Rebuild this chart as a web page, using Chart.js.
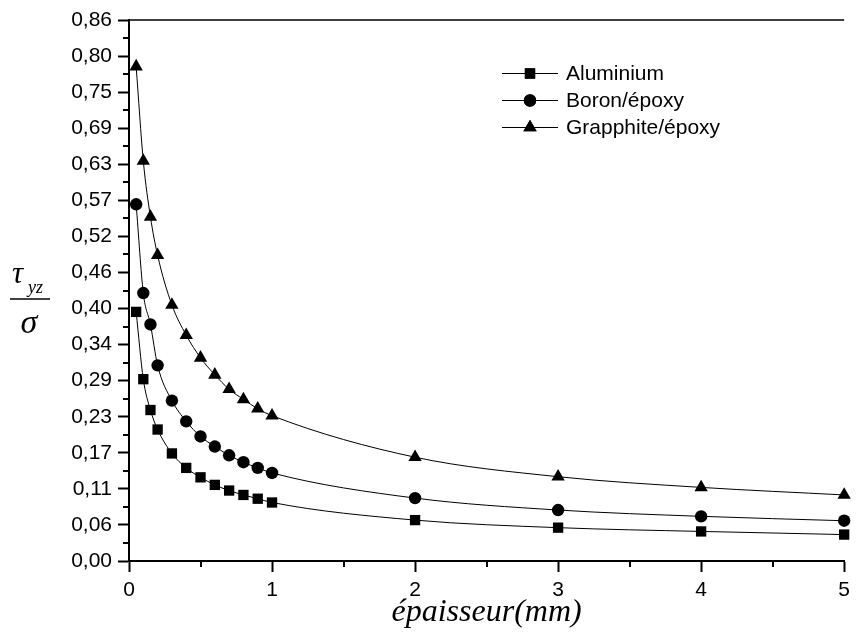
<!DOCTYPE html>
<html>
<head>
<meta charset="utf-8">
<script src="https://cdn.jsdelivr.net/npm/chart.js@4/dist/chart.umd.min.js"></script>
<style>
  html, body { margin: 0; padding: 0; background: #fff; }
  canvas { display: block; }
</style>
</head>
<body>
<canvas id="c" width="856" height="632"></canvas>
<script>
// ---- data ----
const xValues = [0.05, 0.1, 0.15, 0.2, 0.3, 0.4, 0.5, 0.6, 0.7, 0.8, 0.9, 1, 2, 3, 4, 5];
const aluminium = [0.396, 0.289, 0.240, 0.209, 0.171, 0.148, 0.133, 0.121, 0.112, 0.105, 0.099, 0.093, 0.065, 0.053, 0.047, 0.042];
const boronEpoxy = [0.567, 0.426, 0.376, 0.311, 0.255, 0.222, 0.198, 0.182, 0.168, 0.157, 0.148, 0.140, 0.100, 0.081, 0.071, 0.064];
const graphiteEpoxy = [0.786, 0.636, 0.547, 0.486, 0.407, 0.359, 0.323, 0.296, 0.273, 0.257, 0.242, 0.231, 0.165, 0.134, 0.117, 0.105];
const seriesNames = ['Aluminium', 'Boron/époxy', 'Grapphite/époxy'];
const yTickLabels = ['0,00','0,06','0,11','0,17','0,23','0,29','0,34','0,40','0,46','0,52','0,57','0,63','0,69','0,75','0,80','0,86'];
const yMax = 0.86;
const xTickLabels = ['0','1','2','3','4','5'];
const xMax = 5;
const xTitle = 'épaisseur(mm)';

// ---- helpers ----
const ySteps = yTickLabels.length - 1;
const yTickValues = yTickLabels.map((_, i) => i * yMax / ySteps);
const toPts = arr => arr.map((v, i) => ({ x: xValues[i], y: v }));

const sans = '"Liberation Sans", Arial, sans-serif';
const serif = '"Liberation Serif", "Times New Roman", serif';

const frame = {
  id: 'frame',
  afterDraw(chart) {
    const ctx = chart.ctx;
    const a = chart.chartArea;
    const xs = chart.scales.x, ys = chart.scales.y;
    ctx.save();
    ctx.strokeStyle = '#000';
    // top border
    ctx.lineWidth = 1.5;
    ctx.beginPath();
    ctx.moveTo(a.left, a.top);
    ctx.lineTo(a.right, a.top);
    ctx.stroke();
    // minor ticks
    ctx.lineWidth = 2;
    ctx.beginPath();
    for (let i = 0; i < xMax; i++) {
      const px = Math.round(xs.getPixelForValue(i + 0.5));
      ctx.moveTo(px, a.bottom);
      ctx.lineTo(px, a.bottom + 6);
    }
    for (let i = 0; i < ySteps; i++) {
      const py = Math.round(ys.getPixelForValue((i + 0.5) * yMax / ySteps));
      ctx.moveTo(a.left - 6, py);
      ctx.lineTo(a.left, py);
    }
    ctx.stroke();

    // y axis title: tau_yz / sigma
    ctx.fillStyle = '#000';
    ctx.textAlign = 'left';
    ctx.textBaseline = 'alphabetic';
    ctx.font = 'italic 31px ' + serif;
    ctx.fillText('τ', 12, 283);
    ctx.font = 'italic 18px ' + serif;
    ctx.fillText('yz', 28, 293);
    ctx.lineWidth = 1.5;
    ctx.beginPath();
    ctx.moveTo(10, 299);
    ctx.lineTo(50, 299);
    ctx.stroke();
    ctx.font = 'italic 34px ' + serif;
    ctx.textAlign = 'center';
    ctx.fillText('σ', 29, 333);

    // legend
    const rows = [73.5, 100.5, 127.5];
    chart.data.datasets.forEach((ds, i) => {
      const y = rows[i];
      ctx.lineWidth = 1;
      ctx.strokeStyle = '#000';
      ctx.beginPath();
      ctx.moveTo(502, y);
      ctx.lineTo(558, y);
      ctx.stroke();
      ctx.fillStyle = '#000';
      Chart.helpers.drawPoint(ctx, {
        pointStyle: ds.pointStyle, radius: ds.pointRadius, rotation: 0, borderWidth: 0
      }, 530, y);
      ctx.fill();
      ctx.font = '21px ' + sans;
      ctx.textAlign = 'left';
      ctx.textBaseline = 'middle';
      ctx.fillText(ds.label, 566, y + 1);
    });
    ctx.restore();
  }
};

const mkDs = (label, data, style, r) => ({
  label, data: toPts(data),
  borderColor: '#000', backgroundColor: '#000', borderWidth: 1,
  pointStyle: style, pointRadius: r, pointHoverRadius: r,
  pointBackgroundColor: '#000', pointBorderColor: '#000', pointBorderWidth: 0,
  cubicInterpolationMode: 'monotone', fill: false, clip: false
});

new Chart(document.getElementById('c'), {
  type: 'line',
  data: {
    datasets: [
      mkDs(seriesNames[0], aluminium, 'rect', 7.3),
      mkDs(seriesNames[1], boronEpoxy, 'circle', 6.2),
      mkDs(seriesNames[2], graphiteEpoxy, 'triangle', 7.7)
    ]
  },
  options: {
    responsive: false,
    animation: false,
    devicePixelRatio: 1,
    layout: { padding: { top: 20, right: 7, left: 0, bottom: 0 } },
    plugins: { legend: { display: false }, tooltip: { enabled: false } },
    scales: {
      x: {
        type: 'linear', min: 0, max: xMax,
        afterFit: s => { s.height = 71; },
        afterBuildTicks: s => { s.ticks = xTickLabels.map((_, i) => ({ value: i })); },
        ticks: {
          color: '#000', font: { family: sans, size: 21 }, padding: 6,
          maxRotation: 0, autoSkip: false,
          callback: (v, i) => xTickLabels[i]
        },
        grid: { display: true, drawOnChartArea: false, drawTicks: true, tickLength: 11, tickWidth: 2, tickColor: '#000' },
        border: { display: true, color: '#000', width: 2 },
        title: { display: true, text: xTitle, color: '#000', font: { family: serif, size: 32, style: 'italic' }, padding: 0 }
      },
      y: {
        type: 'linear', min: 0, max: yMax,
        afterFit: s => { s.width = 129; },
        afterBuildTicks: s => { s.ticks = yTickValues.map(v => ({ value: v })); },
        ticks: {
          color: '#000', font: { family: sans, size: 21 }, padding: 6, autoSkip: false,
          callback: (v, i) => yTickLabels[i]
        },
        grid: { display: true, drawOnChartArea: false, drawTicks: true, tickLength: 11, tickWidth: 2, tickColor: '#000' },
        border: { display: true, color: '#000', width: 2 }
      }
    }
  },
  plugins: [frame]
});
</script>
</body>
</html>
